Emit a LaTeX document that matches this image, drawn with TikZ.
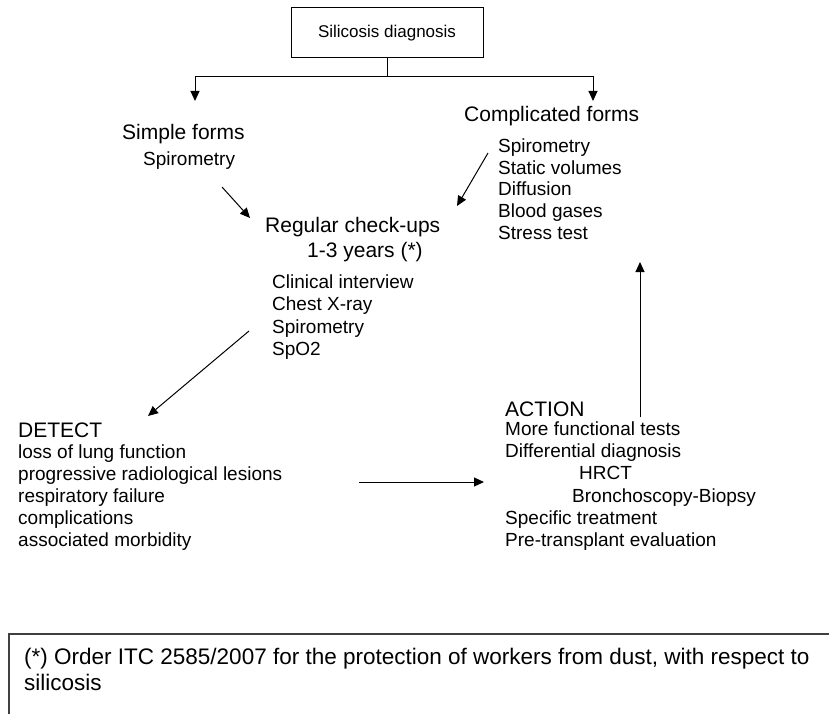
\documentclass[tikz,border=0pt]{standalone}
\usepackage{fontspec}
\setmainfont{Liberation Sans}
\usepackage{tikz}
\usetikzlibrary{arrows.meta,positioning}

\tikzset{
  arr/.style={-{Triangle[length=10pt,width=9pt]}, line width=1pt},
  head/.style={font=\fontsize{21}{24}\selectfont, anchor=base west, inner sep=0pt},
  item/.style={font=\fontsize{19}{22}\selectfont, anchor=base west, inner sep=0pt},
  note/.style={font=\fontsize{22.5}{26}\selectfont, anchor=base west, inner sep=0pt}
}

\begin{document}
\begin{tikzpicture}[x=1pt, y=-1pt]
    \useasboundingbox (0,0) rectangle (829,714);

    % Top box
    \node[draw, line width=1pt, minimum width=192pt, minimum height=50pt,
          font=\fontsize{17}{20}\selectfont] (diag) at (387,33) {Silicosis diagnosis};

    % Headings
    \node[head] (simple) at (122,140) {Simple forms};
    \node[head] (compl) at (464,122) {Complicated forms};
    \node[head] (regular) at (265,232) {Regular check-ups};
    \node[head] (years) at (307,257) {1-3 years (*)};
    \node[head] (detect) at (18,437) {DETECT};
    \node[head] (action) at (505,416) {ACTION};

    % Lists
    \node[item] (simple-spiro) at (143,166) {Spirometry};
    \foreach \t [count=\i from 0] in {Spirometry, Static volumes, Diffusion, Blood gases, Stress test}
        \node[item] (compl-\i) at (498,153+21.5*\i) {\t};
    \foreach \t [count=\i from 0] in {Clinical interview, Chest X-ray, Spirometry, SpO2}
        \node[item] (check-\i) at (272,288+22.6*\i) {\t};
    \foreach \t [count=\i from 0] in {loss of lung function, progressive radiological lesions,
                                      respiratory failure, complications, associated morbidity}
        \node[item] (det-\i) at (18,458+22*\i) {\t};
    \node[item] (act-0) at (505,435) {More functional tests};
    \node[item] (act-1) at (505,457) {Differential diagnosis};
    \node[item] (act-2) at (579,479) {HRCT};
    \node[item] (act-3) at (572,502) {Bronchoscopy-Biopsy};
    \node[item] (act-4) at (505,524) {Specific treatment};
    \node[item] (act-5) at (505,546) {Pre-transplant evaluation};

    % Arrow ends
    \coordinate (split) at (387,77);
    \coordinate (tip-simple) at (195,101);
    \coordinate (tip-compl) at (593,101);
    \coordinate (from-simple) at (222,187);
    \coordinate (to-check-l) at (250,218);
    \coordinate (from-compl) at (488,153);
    \coordinate (to-check-r) at (457,206);
    \coordinate (from-check) at (249,331);
    \coordinate (to-detect) at (148,416);
    \coordinate (from-detect) at (359,482);
    \coordinate (to-action) at (484,482);
    \coordinate (from-action) at (640,417);
    \coordinate (to-compl) at (640,262);

    % Arrows
    \draw[line width=1pt] (diag.south) -- (split);
    \draw[arr] (split) -| (tip-simple);
    \draw[arr] (split) -| (tip-compl);
    \draw[arr] (from-simple) -- (to-check-l);
    \draw[arr] (from-compl) -- (to-check-r);
    \draw[arr] (from-check) -- (to-detect);
    \draw[arr] (from-detect) -- (to-action);
    \draw[arr] (from-action) -- (to-compl);

    % Footnote
    \draw[line width=1.5pt, black!75] (9,714) -- (9,634) -- (829,634);
    \node[note] (note-1) at (24,664) {(*) Order ITC 2585/2007 for the protection of workers from dust, with respect to};
    \node[note] (note-2) at (24,690) {silicosis};
\end{tikzpicture}
\end{document}
